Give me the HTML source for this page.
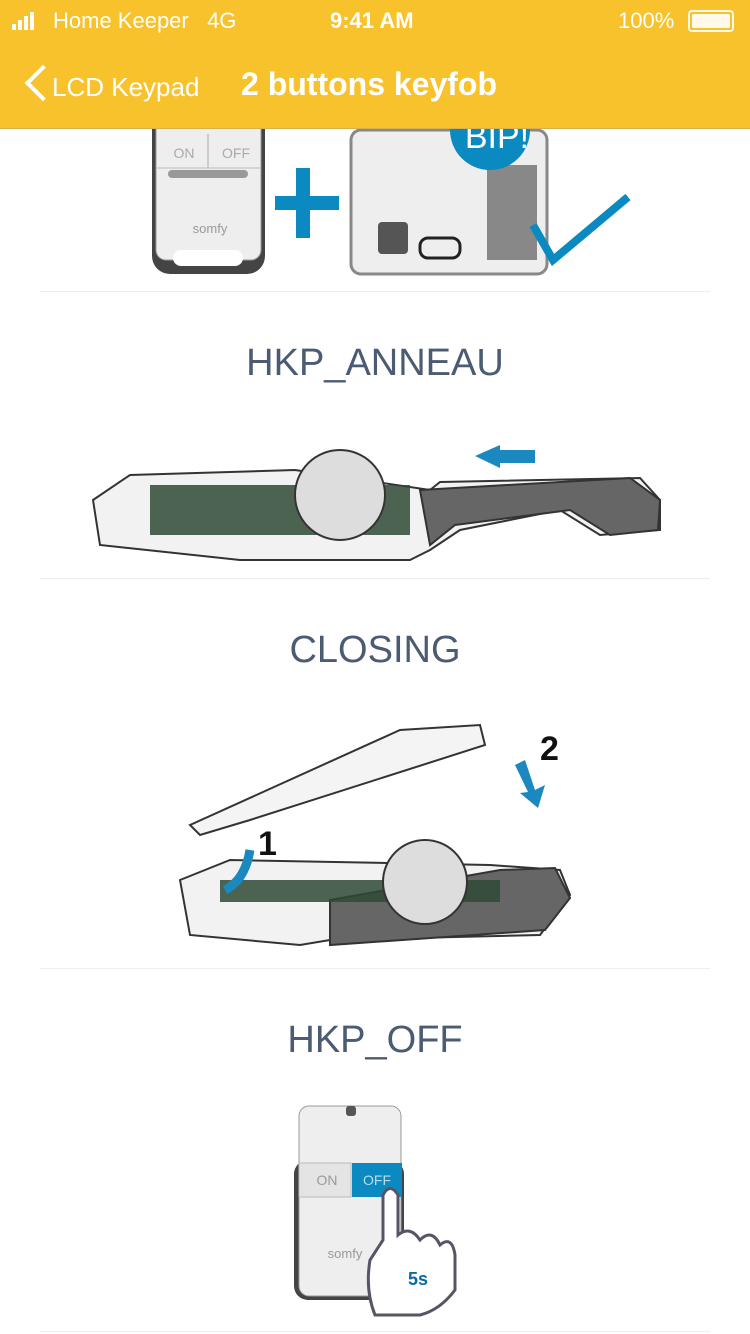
<!DOCTYPE html>
<html><head><meta charset="utf-8"><style>
body{margin:0;width:750px;height:1334px;overflow:hidden;background:#fff;font-family:"Liberation Sans",sans-serif;position:relative}
.hdr{position:absolute;left:0;top:0;width:750px;height:128px;background:#F8C22C;color:#fff;border-bottom:1px solid #d8b050;z-index:5}
.t{position:absolute;font-size:22px}
.title{position:absolute;width:750px;text-align:center;font-size:38px;color:#4b5b73}
.hr{position:absolute;left:40px;width:670px;height:1px;background:#eee}
svg{position:absolute;left:0}
</style></head><body>
<div class="hdr">
 <div style="position:absolute;left:12px;top:12px">
  <span style="display:inline-block;width:4px;height:6px;background:#fff;margin-right:2px"></span><span style="display:inline-block;width:4px;height:10px;background:#fff;margin-right:2px"></span><span style="display:inline-block;width:4px;height:14px;background:#fff;margin-right:2px"></span><span style="display:inline-block;width:4px;height:18px;background:#fff"></span></div>
 <div class="t" style="left:53px;top:8px">Home Keeper&nbsp;&nbsp;&nbsp;4G</div>
 <div class="t" style="left:330px;top:8px;font-weight:bold">9:41 AM</div>
 <div class="t" style="left:618px;top:8px">100%</div>
 <div style="position:absolute;left:688px;top:10px;width:42px;height:18px;border:2px solid #fff;border-radius:4px;opacity:.9"><div style="margin:2px;height:14px;background:#fff;border-radius:2px"></div></div>
 <div style="position:absolute;left:30px;top:70px;width:22px;height:22px;border-left:4px solid #fff;border-bottom:4px solid #fff;transform:rotate(45deg)"></div>
 <div class="t" style="left:52px;top:72px;font-size:26px">LCD Keypad</div>
 <div class="t" style="left:241px;top:66px;font-size:32px;font-weight:bold">2 buttons keyfob</div>
</div>
<svg width="750" height="1334" viewBox="0 0 750 1334">
 <rect x="152" y="110" width="113" height="164" rx="18" fill="#444"/>
 <rect x="156" y="110" width="105" height="150" rx="10" fill="#eee" stroke="#999"/>
 <rect x="173" y="250" width="70" height="16" rx="8" fill="#fff"/>
 <line x1="208" y1="134" x2="208" y2="168" stroke="#aaa"/>
 <line x1="156" y1="168" x2="261" y2="168" stroke="#bbb"/>
 <rect x="168" y="170" width="80" height="8" rx="4" fill="#999"/>
 <text x="184" y="158" font-size="14" fill="#aaa" text-anchor="middle">ON</text>
 <text x="236" y="158" font-size="14" fill="#aaa" text-anchor="middle">OFF</text>
 <text x="210" y="233" font-size="13" fill="#999" text-anchor="middle">somfy</text>
 <rect x="296" y="168" width="14" height="70" fill="#0a8ac0"/><rect x="275" y="196" width="64" height="14" fill="#0a8ac0"/>
 <rect x="351" y="130" width="196" height="144" rx="10" fill="#eee" stroke="#888" stroke-width="3"/>
 <rect x="487" y="165" width="50" height="95" fill="#888"/>
 <rect x="378" y="222" width="30" height="32" rx="4" fill="#555"/>
 <rect x="420" y="238" width="40" height="20" rx="8" fill="none" stroke="#222" stroke-width="3"/>
 <circle cx="490" cy="130" r="40" fill="#0a8ac0"/>
 <text x="497" y="148" font-size="34" fill="#fff" text-anchor="middle">BIP!</text>
 <polyline points="533,225 553,260 628,197" fill="none" stroke="#0a8ac0" stroke-width="8"/>
 <polygon points="475,456 500,445 500,450 535,450 535,463 500,463 500,468" fill="#1c88c0"/>
 <path d="M93,500 L130,475 L295,470 L430,490 L440,482 L640,478 L660,500 L660,530 L600,535 L560,510 L460,530 L430,550 L410,560 L240,560 L100,545 Z" fill="#f2f2f2" stroke="#333" stroke-width="2"/>
 <path d="M420,490 L630,478 L660,500 L658,530 L610,535 L570,510 L455,525 L430,545 Z" fill="#666" stroke="#333" stroke-width="2"/>
 <rect x="150" y="485" width="260" height="50" fill="#2f4a36" opacity=".85"/>
 <circle cx="340" cy="495" r="45" fill="#ddd" stroke="#333" stroke-width="2"/>
 <path d="M190,825 L400,730 L480,725 L485,745 L250,820 L200,835 Z" fill="#f4f4f4" stroke="#333" stroke-width="2"/>
 <path d="M180,880 L230,860 L490,865 L560,870 L570,895 L540,935 L330,940 L300,945 L190,935 Z" fill="#f2f2f2" stroke="#333" stroke-width="2"/>
 <path d="M330,900 L500,870 L555,868 L570,898 L545,930 L330,945 Z" fill="#666" stroke="#333" stroke-width="2"/>
 <rect x="220" y="880" width="280" height="22" fill="#2f4a36" opacity=".85"/>
 <circle cx="425" cy="882" r="42" fill="#ddd" stroke="#333" stroke-width="2"/>
 <polygon points="515,765 525,760 535,790 545,785 538,808 520,793 528,792" fill="#1c88c0"/>
 <path d="M250,850 Q245,880 225,890" fill="none" stroke="#1c88c0" stroke-width="9"/>
 <text x="540" y="760" font-size="34" font-weight="bold" fill="#111">2</text>
 <text x="258" y="855" font-size="34" font-weight="bold" fill="#111">1</text>
 <rect x="294" y="1160" width="110" height="140" rx="14" fill="#444"/>
 <rect x="299" y="1106" width="102" height="190" rx="10" fill="#eee" stroke="#999"/>
 <rect x="346" y="1106" width="10" height="10" rx="3" fill="#555"/>
 <rect x="299" y="1163" width="52" height="34" fill="#e4e4e4" stroke="#bbb"/>
 <rect x="352" y="1163" width="50" height="34" fill="#0a8ac0"/>
 <text x="327" y="1185" font-size="14" fill="#999" text-anchor="middle">ON</text>
 <text x="377" y="1185" font-size="14" fill="#bde" text-anchor="middle">OFF</text>
 <text x="345" y="1258" font-size="13" fill="#999" text-anchor="middle">somfy</text>
 <path d="M383,1240 L383,1195 Q390,1182 398,1195 L398,1235 Q410,1225 420,1240 Q432,1228 440,1245 Q452,1235 455,1255 L455,1290 Q440,1310 420,1315 L375,1315 Q365,1290 370,1260 Z" fill="#fff" stroke="#556" stroke-width="3"/>
 <text x="418" y="1285" font-size="18" font-weight="bold" fill="#0a6aa8" text-anchor="middle">5s</text>
</svg>
<div class="hr" style="top:291px"></div>
<div class="title" style="top:342px">HKP_ANNEAU</div>
<div class="hr" style="top:578px"></div>
<div class="title" style="top:629px">CLOSING</div>
<div class="hr" style="top:968px"></div>
<div class="title" style="top:1019px">HKP_OFF</div>
<div class="hr" style="top:1331px"></div>
</body></html>
